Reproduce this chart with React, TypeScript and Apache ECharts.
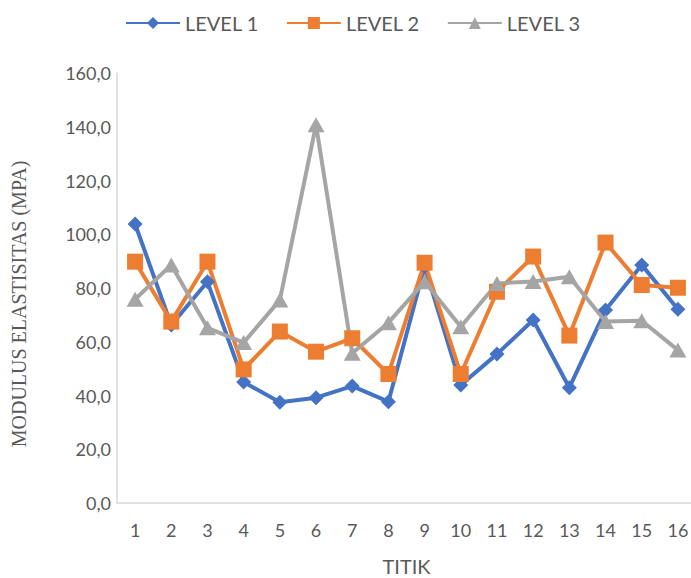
import React, { useEffect, useRef } from "react";
import * as echarts from "echarts";

const categories = ["1", "2", "3", "4", "5", "6", "7", "8", "9", "10", "11", "12", "13", "14", "15", "16"];
const level1 = [103.8, 66.2, 82.3, 45.0, 37.5, 39.2, 43.5, 37.7, 88.0, 43.9, 55.4, 68.1, 42.9, 71.8, 88.6, 72.1];
const level2 = [89.8, 67.5, 89.8, 49.7, 63.8, 56.3, 61.3, 48.0, 89.4, 48.0, 78.6, 91.7, 62.3, 96.9, 81.1, 80.1];
const level3 = [75.8, 88.6, 65.2, 59.7, 75.5, 140.7, 55.7, 67.1, 82.3, 65.6, 81.7, 82.4, 84.2, 67.5, 67.8, 56.9];
const seriesNames = ["LEVEL 1", "LEVEL 2", "LEVEL 3"];
const yTitle = "MODULUS ELASTISITAS (MPA)";
const xTitle = "TITIK";

const TEXT = "#595959";
const FONT = "Lato, 'Open Sans', sans-serif";

export default function App() {
  const ref = useRef<HTMLDivElement>(null);

  useEffect(() => {
    if (!ref.current) return;
    const chart = echarts.init(ref.current, undefined, { renderer: "svg" });

    const mk = (name: string, data: number[], color: string, symbol: string, size: number | number[]) => ({
      name,
      type: "line",
      data,
      symbol,
      symbolSize: size,
      showAllSymbol: true,
      lineStyle: { color, width: 4 },
      itemStyle: { color },
      emphasis: { disabled: true },
    });

    chart.setOption({
      animation: false,
      backgroundColor: "#ffffff",
      legend: {
        top: 8,
        left: 120,
        itemWidth: 54,
        itemHeight: 15,
        itemGap: 27,
        textStyle: { color: TEXT, fontSize: 20, fontFamily: FONT },
        data: seriesNames,
      },
      grid: {
        left: 117,
        top: 73,
        width: 579,
        height: 430,
        containLabel: false,
        outerBoundsMode: "none",
      },
      xAxis: {
        type: "category",
        data: categories,
        boundaryGap: true,
        name: xTitle,
        nameLocation: "middle",
        nameGap: 53,
        nameTextStyle: { color: TEXT, fontSize: 20, lineHeight: 20, fontFamily: FONT },
        axisLine: { lineStyle: { color: "#d9d9d9", width: 1.5 } },
        axisTick: { show: false },
        axisLabel: { color: TEXT, fontSize: 18, margin: 18, fontFamily: FONT },
        splitLine: { show: false },
      },
      yAxis: {
        type: "value",
        min: 0,
        max: 160,
        interval: 20,
        name: yTitle,
        nameLocation: "middle",
        nameGap: 88,
        nameTextStyle: {
          color: TEXT,
          fontSize: 20,
          fontFamily: "Liberation Serif",
          padding: [0, 32, 0, 0],
        },
        axisLine: { show: true, lineStyle: { color: "#d9d9d9", width: 1.5 } },
        axisTick: { show: false },
        splitLine: { show: false },
        axisLabel: {
          color: TEXT,
          fontSize: 18,
          margin: 6,
          fontFamily: FONT,
          formatter: (v: number) => v.toFixed(1).replace(".", ","),
        },
      },
      series: [
        mk(seriesNames[0], level1, "#4472C4", "diamond", 15),
        mk(seriesNames[1], level2, "#ED7D31", "rect", 16),
        mk(seriesNames[2], level3, "#A5A5A5", "triangle", [17, 15]),
      ],
    });

    return () => chart.dispose();
  }, []);

  return (
    <div
      ref={ref}
      style={{ position: "fixed", left: 0, top: 0, width: 691, height: 578, background: "#fff" }}
    />
  );
}
